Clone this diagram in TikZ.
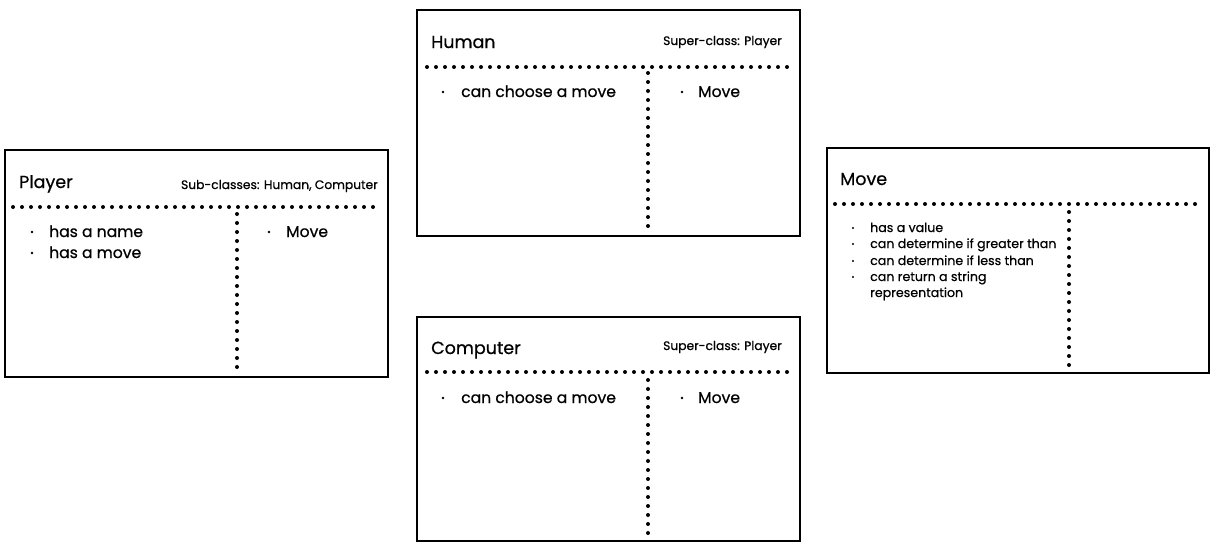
\documentclass[tikz,border=0pt]{standalone}
\usepackage{fontspec}
\setmainfont{Poppins}[FakeBold=0.6]
\begin{document}
\begin{tikzpicture}[x=1pt,y=-1pt,
  box/.style={draw=black,line width=1.8pt,fill=white},
  dots/.style={line width=4pt,line cap=round,dash pattern=on 0pt off 9pt},
  ttl/.style={anchor=base west,inner sep=0pt,font=\fontsize{17.5}{20}\selectfont},
  rtl/.style={anchor=base east,inner sep=0pt,font=\fontsize{12.3}{14}\selectfont},
  itm/.style={anchor=base west,inner sep=0pt,font=\fontsize{15.6}{18}\selectfont},
  sml/.style={anchor=base west,inner sep=0pt,font=\fontsize{12.6}{14}\selectfont},
  bul/.style={circle,fill=black,inner sep=0pt,minimum size=2.6pt},
  sbul/.style={circle,fill=black,inner sep=0pt,minimum size=2.2pt}]
\useasboundingbox (0,0) rectangle (1215,552);
% Player
\draw[box] (5,150) rectangle (388,377);
\node[ttl] (ptitle) at (19,188) {Player};
\node[rtl] (psub) at (378,189) {Sub-classes: Human, Computer};
\coordinate (ph1) at (13,207); \coordinate (ph2) at (378,207);
\coordinate (pv1) at (237,214); \coordinate (pv2) at (237,369);
\draw[dots] (ph1) -- (ph2);
\draw[dots] (pv1) -- (pv2);
\node[bul] (pb1) at (32,232) {}; \node[itm] (pi1) at (49,237) {has a name};
\node[bul] (pb2) at (32,253) {}; \node[itm] (pi2) at (49,258) {has a move};
\node[bul] (pb3) at (269,232) {}; \node[itm] (pi3) at (286,237) {Move};
% Human
\draw[box] (417,10) rectangle (800,236);
\node[ttl] (htitle) at (431,48) {Human};
\node[rtl] (hsub) at (782,45) {Super-class: Player};
\coordinate (hh1) at (427,67); \coordinate (hh2) at (791,67);
\coordinate (hv1) at (648,73); \coordinate (hv2) at (648,228);
\draw[dots] (hh1) -- (hh2);
\draw[dots] (hv1) -- (hv2);
\node[bul] (hb1) at (443,92) {}; \node[itm] (hi1) at (461,97) {can choose a move};
\node[bul] (hb2) at (682,92) {}; \node[itm] (hi2) at (698,97) {Move};
% Computer
\draw[box] (417,317) rectangle (800,541);
\node[ttl] (ctitle) at (431,354) {Computer};
\node[rtl] (csub) at (782,350) {Super-class: Player};
\coordinate (ch1) at (427,372); \coordinate (ch2) at (791,372);
\coordinate (cv1) at (648,380); \coordinate (cv2) at (648,533);
\draw[dots] (ch1) -- (ch2);
\draw[dots] (cv1) -- (cv2);
\node[bul] (cb1) at (443,398) {}; \node[itm] (ci1) at (461,403) {can choose a move};
\node[bul] (cb2) at (682,398) {}; \node[itm] (ci2) at (698,403) {Move};
% Move
\draw[box] (827,148) rectangle (1209,373);
\node[ttl] (mtitle) at (840,185) {Move};
\coordinate (mh1) at (835,204); \coordinate (mh2) at (1198,204);
\coordinate (mv1) at (1069,212); \coordinate (mv2) at (1069,366);
\draw[dots] (mh1) -- (mh2);
\draw[dots] (mv1) -- (mv2);
\node[sbul] (mb1) at (853,228) {}; \node[sml] (mi1) at (870,232) {has a value};
\node[sbul] (mb2) at (853,244) {}; \node[sml] (mi2) at (870,248) {can determine if greater than};
\node[sbul] (mb3) at (853,261) {}; \node[sml] (mi3) at (870,265) {can determine if less than};
\node[sbul] (mb4) at (853,277) {}; \node[sml] (mi4) at (870,281) {can return a string};
\node[sml] (mi5) at (870,297) {representation};
\end{tikzpicture}
\end{document}
